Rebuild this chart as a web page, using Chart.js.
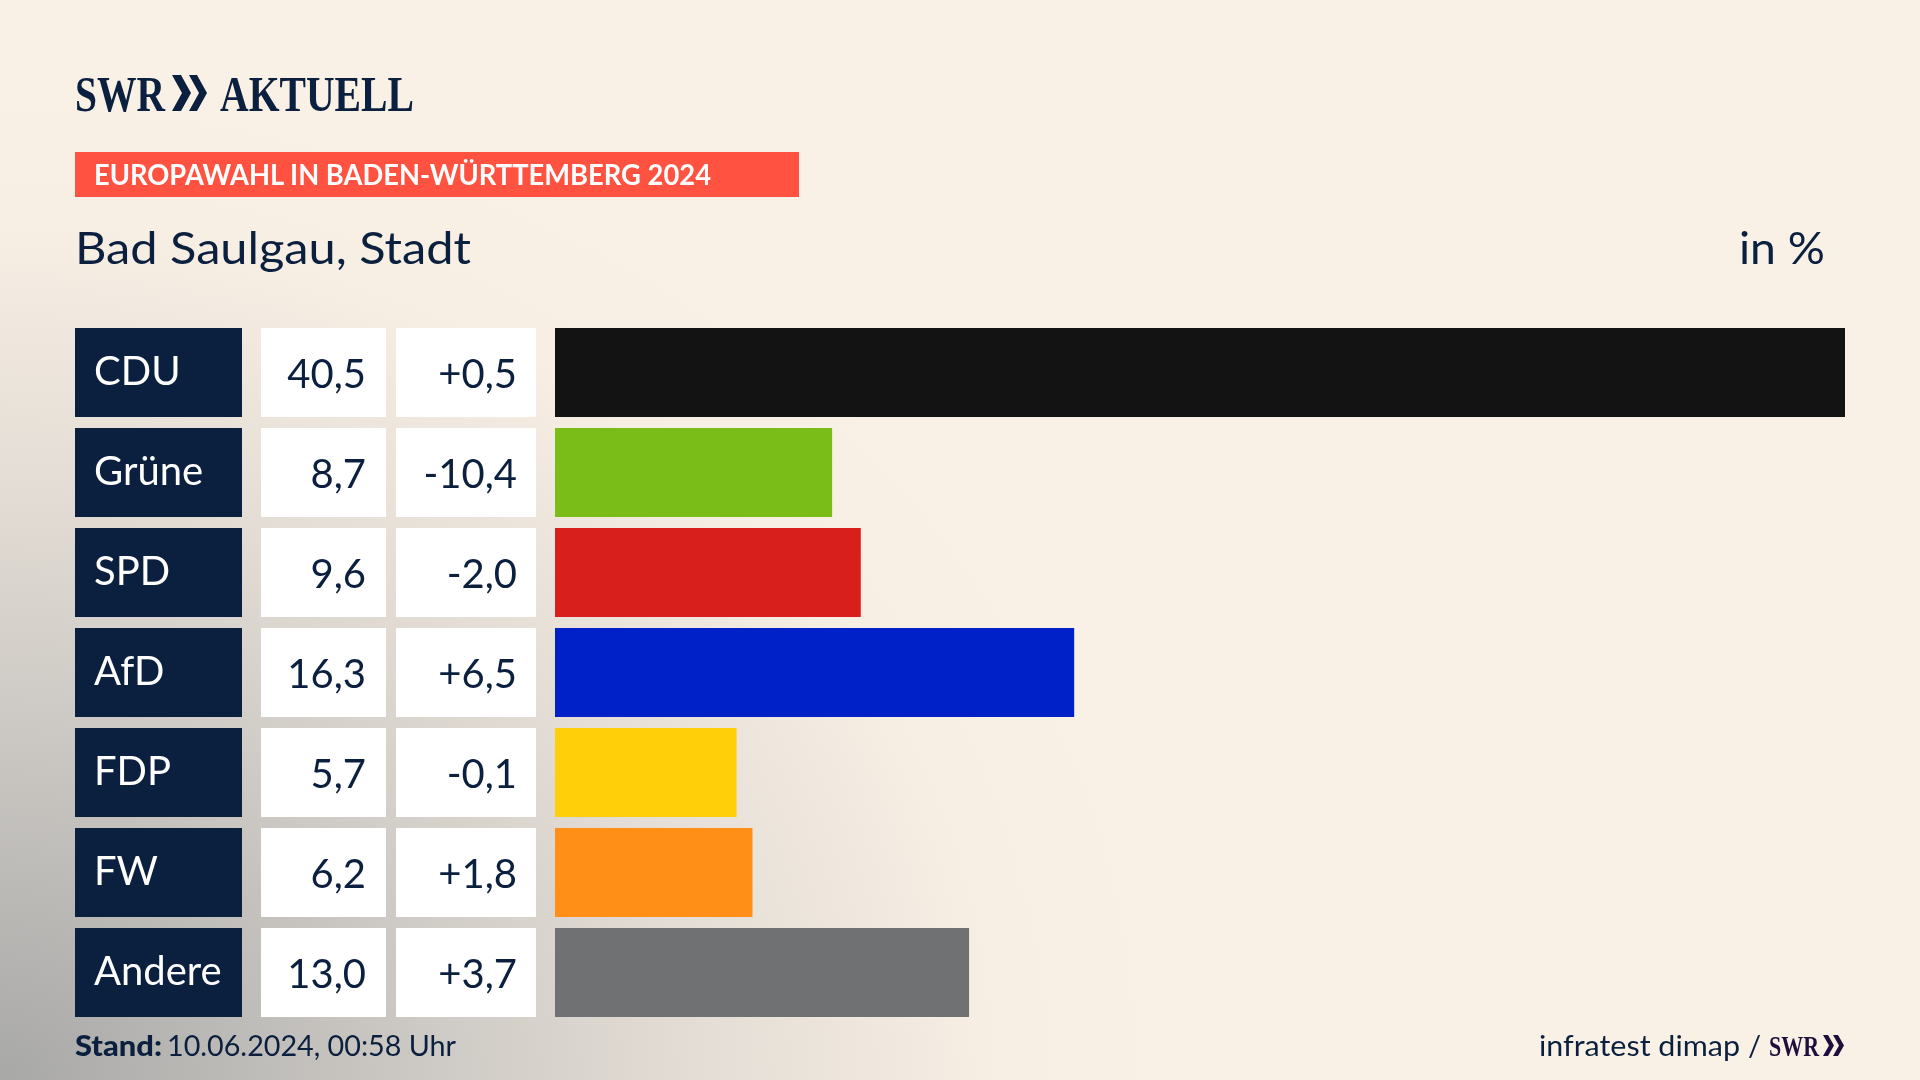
<!DOCTYPE html>
<html lang="de">
<head>
<meta charset="utf-8">
<title>Europawahl Bad Saulgau</title>
<script src="https://cdn.jsdelivr.net/npm/chart.js@4"></script>
<style>
  html, body { margin: 0; padding: 0; }
  body {
    width: 1920px; height: 1080px; overflow: hidden; position: relative;
    background:
      radial-gradient(ellipse 1180px 1010px at 0 100%, rgba(168,168,167,1) 0%, rgba(190,188,185,.85) 30%, rgba(214,209,203,.6) 60%, rgba(240,232,222,.25) 85%, rgba(250,241,230,0) 100%),
      #faf1e6;
    font-family: Lato, sans-serif; color: #0b1f3e;
  }
  canvas { position: absolute; left: 0; top: 0; }
  svg.kopf { position: absolute; left: 0; top: 0; }
</style>
</head>
<body>
<canvas id="grafik" width="1920" height="1080"></canvas>
<svg class="kopf" width="1920" height="1080" font-family="Lato" fill="#0b1f3e">
  <text x="75" y="111" font-size="50" font-weight="900" textLength="90" lengthAdjust="spacingAndGlyphs" font-family="Liberation Sans Narrow">SWR</text>
  <polygon points="172,75 181,75 191,93 181,111 172,111 182,93"/>
  <polygon points="189,75 197,75 207,93 197,111 189,111 199,93"/>
  <text x="220" y="111" font-size="50" font-weight="900" textLength="194" lengthAdjust="spacingAndGlyphs" font-family="Liberation Sans Narrow">AKTUELL</text>

  <rect x="75" y="152" width="724" height="45" fill="#ff5240"/>
  <text x="94" y="185" font-size="28" font-weight="700" fill="#fff" textLength="617" lengthAdjust="spacingAndGlyphs">EUROPAWAHL IN BADEN-WÜRTTEMBERG 2024</text>

  <text x="75" y="264" font-size="45" textLength="396" lengthAdjust="spacingAndGlyphs">Bad Saulgau, Stadt</text>
  <text x="1739" y="264" font-size="45" textLength="86" lengthAdjust="spacingAndGlyphs">in %</text>

  <text x="75" y="1056" font-size="28" font-weight="900" textLength="87" lengthAdjust="spacingAndGlyphs">Stand:</text>
  <text x="167" y="1056" font-size="28" textLength="289" lengthAdjust="spacingAndGlyphs">10.06.2024, 00:58 Uhr</text>
  <text x="1539" y="1056" font-size="29" textLength="201" lengthAdjust="spacingAndGlyphs">infratest dimap</text>
  <text x="1748" y="1056" font-size="29">/</text>
  <g fill="#1f0f3d">
    <text x="1769" y="1056" font-size="29" font-weight="900" textLength="50" lengthAdjust="spacingAndGlyphs" font-family="Liberation Sans Narrow">SWR</text>
    <polygon points="1823,1035 1828,1035 1834,1045.5 1828,1056 1823,1056 1829,1045.5"/>
    <polygon points="1833,1035 1838,1035 1844,1045.5 1838,1056 1833,1056 1839,1045.5"/>
  </g>
</svg>
<script>
const parteien = ['CDU', 'Grüne', 'SPD', 'AfD', 'FDP', 'FW', 'Andere'];
const anteile = [40.5, 8.7, 9.6, 16.3, 5.7, 6.2, 13.0];
const differenzen = [0.5, -10.4, -2.0, 6.5, -0.1, 1.8, 3.7];
const farben = ['#131313', '#7bbd18', '#d81f1c', '#0020c8', '#ffcf0a', '#ff8f17', '#707173'];

function zahl(wert) {
    return wert.toFixed(1).replace('.', ',');
}

function differenz(wert) {
    return (wert > 0 ? '+' : '') + zahl(wert);
}

// Kaesten und Zahlen links neben den Balken
const zellenPlugin = {
    id: 'zellen',
    beforeDraw(chart) {
        const ctx = chart.ctx;
        const y = chart.scales.y;
        parteien.forEach((partei, i) => {
            const mitte = y.getPixelForValue(i);
            ctx.fillStyle = '#0b1f3e';
            ctx.fillRect(75, mitte - 44.5, 167, 89);
            ctx.fillStyle = '#ffffff';
            ctx.fillRect(261, mitte - 44.5, 125, 89);
            ctx.fillRect(396, mitte - 44.5, 140, 89);
        });
    },
    afterDraw(chart) {
        const ctx = chart.ctx;
        const y = chart.scales.y;
        ctx.save();
        ctx.font = '40px Lato';
        ctx.fillStyle = '#0b1f3e';
        ctx.textAlign = 'right';
        ctx.textBaseline = 'alphabetic';
        parteien.forEach((partei, i) => {
            const mitte = y.getPixelForValue(i);
            ctx.fillText(zahl(anteile[i]), 366, mitte + 15);
            ctx.fillText(differenz(differenzen[i]), 517, mitte + 15);
        });
        ctx.restore();
    }
};

new Chart(document.getElementById('grafik'), {
    type: 'bar',
    data: {
        labels: parteien,
        datasets: [{
            data: anteile,
            backgroundColor: farben,
            barPercentage: 0.89,
            categoryPercentage: 1
        }]
    },
    options: {
        indexAxis: 'y',
        responsive: false,
        devicePixelRatio: 1,
        animation: false,
        layout: { padding: { left: 94, right: 75, top: 322.5, bottom: 57.5 } },
        plugins: { legend: { display: false }, tooltip: { enabled: false } },
        scales: {
            x: { display: false, min: 0, max: 40.5 },
            y: {
                afterFit(skala) { skala.width = 461; },
                border: { display: false },
                grid: { display: false, drawTicks: false },
                ticks: {
                    crossAlign: 'far',
                    padding: 0,
                    color: '#ffffff',
                    font: { family: 'Lato', size: 40 }
                }
            }
        }
    },
    plugins: [zellenPlugin]
});
</script>
</body>
</html>
